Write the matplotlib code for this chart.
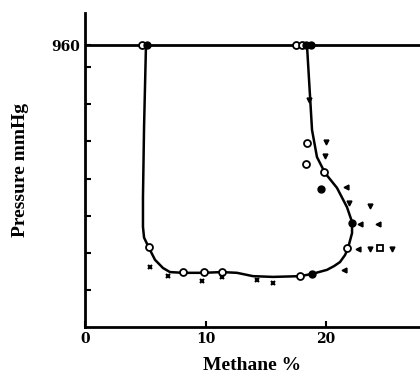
import matplotlib
matplotlib.use("Agg")
import matplotlib.pyplot as plt
import numpy as np

# limit curve (methane %, pressure mmHg)
curve_x = [5.06, 4.9, 4.81, 4.81, 4.9, 5.31, 5.81, 6.47, 7.05, 8.13, 9.79, 11.37, 12.61, 13.94, 15.6,
           17.84, 18.84, 20.08, 20.66, 21.16, 21.58, 21.83, 22.16, 22.16, 21.74, 20.91, 19.92, 19.25,
           18.84, 18.42]
curve_p = [960, 739, 550, 470, 441, 413, 381, 359, 348, 346, 346, 348, 346, 337, 335,
           337, 343, 354, 364, 375, 394, 413, 453, 483, 523, 575, 615, 658,
           731, 960]

# open circles
open_x = [18.42, 18.34, 19.83, 5.31, 8.13, 9.88, 11.37, 17.84, 21.74, 4.73, 17.51, 18.0]
open_p = [696, 639, 618, 416, 348, 348, 348, 337, 413, 960, 960, 960]
# open square
sq_x = [24.48]
sq_p = [413]
# filled circles
fill_x = [19.59, 22.16, 18.84, 5.15, 18.34, 18.76]
fill_p = [572, 480, 343, 960, 960, 960]
# down triangles
tri_x = [20.0, 19.92, 21.9, 23.65, 23.65, 25.48, 18.6]
tri_p = [699, 661, 534, 526, 410, 410, 812]
# left triangles
lt_x = [21.66, 22.82, 24.32, 22.66, 21.49]
lt_p = [577, 478, 478, 410, 354]
# small crosses
cr_x = [5.39, 6.89, 9.71, 11.37, 14.27, 15.6]
cr_p = [362, 337, 324, 335, 327, 319]

fig = plt.figure(figsize=(4.2, 3.8), dpi=100)
ax = fig.add_axes([0.2024, 0.1395, 0.7976, 0.826])

ax.axhline(960, color="black", lw=2)
ax.plot(curve_x, curve_p, color="black", lw=1.8, solid_joinstyle="round")
ax.plot(open_x, open_p, "o", mfc="white", mec="black", ms=5, mew=1.3)
ax.plot(sq_x, sq_p, "s", mfc="white", mec="black", ms=5, mew=1.3)
ax.plot(fill_x, fill_p, "o", color="black", ms=5)
ax.plot(tri_x, tri_p, "v", color="black", ms=3.5)
ax.plot(lt_x, lt_p, "<", color="black", ms=3.5)
ax.plot(cr_x, cr_p, "x", color="black", ms=3, mew=1.5)

ax.set_xlim(0, 27.8)
ax.set_ylim(200, 1046)
for s in ["top", "right"]:
    ax.spines[s].set_visible(False)
for s in ["left", "bottom"]:
    ax.spines[s].set_linewidth(2)

ax.set_yticks([300, 400, 500, 600, 700, 800, 900, 960])
ax.set_yticklabels(["", "", "", "", "", "", "", "960"])
ax.set_xticks([0, 10, 20])
ax.set_xticklabels(["0", "10", "20"])
ax.tick_params(direction="in", length=4, width=1.5,
               labelsize=10)
for t in ax.get_xticklabels() + ax.get_yticklabels():
    t.set_fontweight("bold")
    t.set_family("DejaVu Serif")

ax.set_xlabel("Methane %", fontsize=14, fontweight="bold", family="Liberation Serif", labelpad=8)
ax.set_ylabel("Pressure mmHg", fontsize=14, fontweight="bold", family="Liberation Serif", labelpad=16)

plt.savefig("out.png", dpi=100)
